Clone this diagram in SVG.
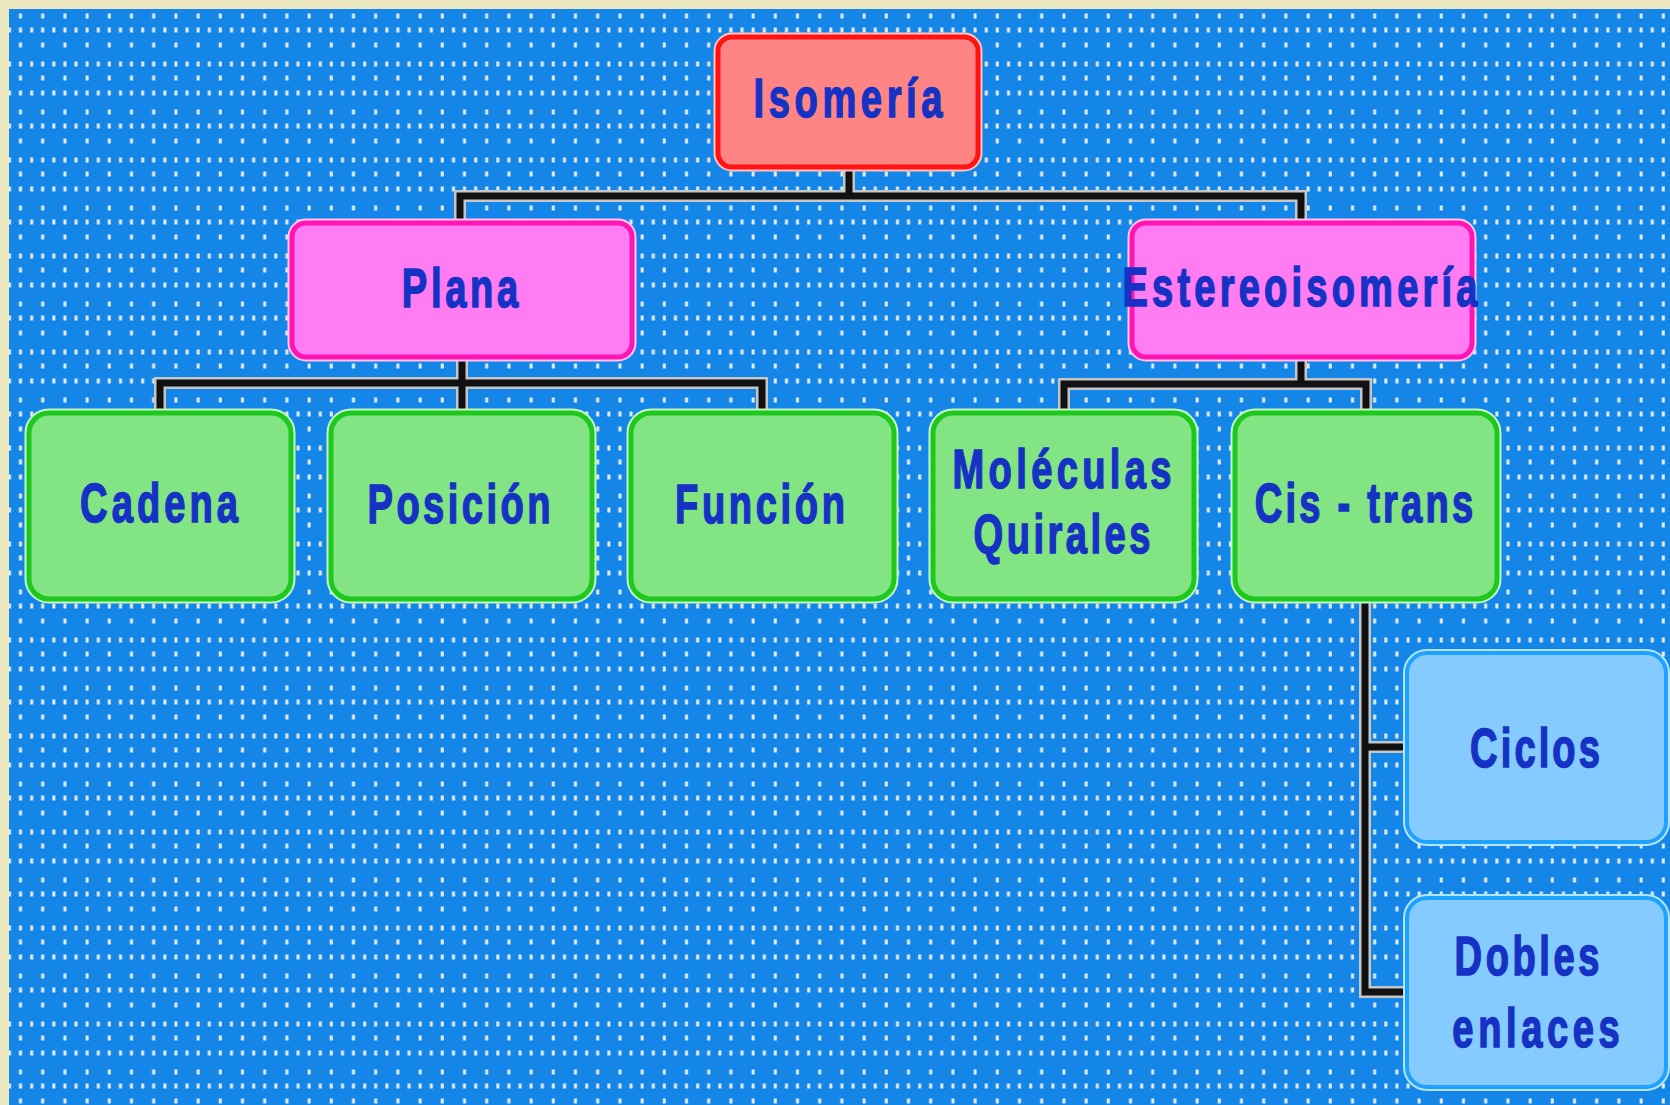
<svg xmlns="http://www.w3.org/2000/svg" width="1670" height="1105" viewBox="0 0 1670 1105">
  <defs>
    <!-- dotted white grid over the blue backdrop -->
    <pattern id="dots" patternUnits="userSpaceOnUse" x="0" y="0" width="22.2" height="96">
      <g fill="#e9ebee">
        <rect x="19" y="13.5" width="3" height="5"/>
        <rect x="8" y="27.5" width="3" height="5"/>
        <rect x="19" y="27.5" width="3" height="5"/>
        <rect x="19" y="42.5" width="3" height="5"/>
        <rect x="8" y="61.5" width="3" height="5"/>
        <rect x="19" y="61.5" width="3" height="5"/>
        <rect x="19" y="75.5" width="3" height="5"/>
        <rect x="8" y="90.5" width="3" height="5"/>
        <rect x="19" y="90.5" width="3" height="5"/>
      </g>
    </pattern>
    <style>
      .wire-halo { fill: none; stroke: #c6c6c6; stroke-width: 12; stroke-linejoin: miter; }
      .wire { fill: none; stroke: #111111; stroke-width: 7; stroke-linejoin: miter; }
      .label { font-family: "Liberation Sans", Arial, sans-serif; font-weight: bold; font-size: 56px; fill: #1632c4; stroke: #1632c4; stroke-width: 1.6; text-anchor: middle; }
      .red .halo { fill: none; stroke: #ffc0c0; stroke-width: 9; }
      .red .box { fill: #ff8585; stroke: #ff1414; stroke-width: 5; }
      .pink .halo { fill: none; stroke: #ffc4f2; stroke-width: 9; }
      .pink .box { fill: #ff7cf2; stroke: #ff14b4; stroke-width: 5; }
      .green .halo { fill: none; stroke: #c4f6c4; stroke-width: 9; }
      .green .box { fill: #82e482; stroke: #1ec81e; stroke-width: 5; }
      .blue .halo { fill: none; stroke: #b4e4ff; stroke-width: 8; }
      .blue .box { fill: #86cbff; stroke: #1ea2ff; stroke-width: 4; }
    </style>
  </defs>

  <!-- frame and backdrop -->
  <rect x="0" y="0" width="1670" height="1105" fill="#ece8c0"/>
  <rect x="9" y="9" width="1661" height="1096" fill="#1486e8"/>
  <rect x="9" y="9" width="1661" height="1096" fill="url(#dots)"/>

  <!-- connectors -->
  <g id="connectors">
    <g class="wire-halo">
      <path d="M849 167 V196"/>
      <path d="M460 223 V196 H1301 V223"/>
      <path d="M462 357 V412"/>
      <path d="M160 412 V383 H762 V412"/>
      <path d="M1301 357 V384"/>
      <path d="M1064 412 V384 H1366 V412"/>
      <path d="M1365 598 V992 H1407"/>
      <path d="M1365 747 H1407"/>
    </g>
    <g class="wire">
      <path d="M849 167 V196"/>
      <path d="M460 223 V196 H1301 V223"/>
      <path d="M462 357 V412"/>
      <path d="M160 412 V383 H762 V412"/>
      <path d="M1301 357 V384"/>
      <path d="M1064 412 V384 H1366 V412"/>
      <path d="M1365 598 V992 H1407"/>
      <path d="M1365 747 H1407"/>
    </g>
  </g>

  <!-- labels use narrow glyphs (scaleX 0.68) with widened spacing;
       textLength values are in the scaled units (target width / 0.68) -->

  <!-- root -->
  <g id="isomeria" class="red">
    <rect class="halo" x="718" y="37" width="260" height="130" rx="14"/>
    <rect class="box" x="718" y="37" width="260" height="130" rx="14"/>
    <text class="label" transform="translate(848 117) scale(0.68 1)" textLength="278" lengthAdjust="spacing">Isomería</text>
  </g>

  <!-- second level -->
  <g id="plana" class="pink">
    <rect class="halo" x="292" y="223" width="340" height="134" rx="14"/>
    <rect class="box" x="292" y="223" width="340" height="134" rx="14"/>
    <text class="label" transform="translate(460 307) scale(0.68 1)" textLength="171" lengthAdjust="spacing">Plana</text>
  </g>
  <g id="estereoisomeria" class="pink">
    <rect class="halo" x="1132" y="223" width="340" height="134" rx="14"/>
    <rect class="box" x="1132" y="223" width="340" height="134" rx="14"/>
    <text class="label" transform="translate(1300 306) scale(0.68 1)" textLength="522" lengthAdjust="spacing">Estereoisomería</text>
  </g>

  <!-- third level -->
  <g id="cadena" class="green">
    <rect class="halo" x="29" y="413" width="262" height="186" rx="20"/>
    <rect class="box" x="29" y="413" width="262" height="186" rx="20"/>
    <text class="label" transform="translate(159 522) scale(0.68 1)" textLength="232" lengthAdjust="spacing">Cadena</text>
  </g>
  <g id="posicion" class="green">
    <rect class="halo" x="331" y="413" width="261" height="186" rx="20"/>
    <rect class="box" x="331" y="413" width="261" height="186" rx="20"/>
    <text class="label" transform="translate(459 523) scale(0.68 1)" textLength="269" lengthAdjust="spacing">Posición</text>
  </g>
  <g id="funcion" class="green">
    <rect class="halo" x="631" y="413" width="263" height="186" rx="20"/>
    <rect class="box" x="631" y="413" width="263" height="186" rx="20"/>
    <text class="label" transform="translate(760 523) scale(0.68 1)" textLength="250" lengthAdjust="spacing">Función</text>
  </g>
  <g id="moleculas-quirales" class="green">
    <rect class="halo" x="933" y="413" width="261" height="186" rx="20"/>
    <rect class="box" x="933" y="413" width="261" height="186" rx="20"/>
    <text class="label" transform="translate(1062 488) scale(0.68 1)" textLength="322" lengthAdjust="spacing">Moléculas</text>
    <text class="label" transform="translate(1062 553) scale(0.68 1)" textLength="260" lengthAdjust="spacing">Quirales</text>
  </g>
  <g id="cis-trans" class="green">
    <rect class="halo" x="1235" y="413" width="262" height="186" rx="20"/>
    <rect class="box" x="1235" y="413" width="262" height="186" rx="20"/>
    <text class="label" transform="translate(1364 522) scale(0.68 1)" textLength="321" lengthAdjust="spacing">Cis - trans</text>
  </g>

  <!-- fourth level -->
  <g id="ciclos" class="blue">
    <rect class="halo" x="1407" y="653" width="259" height="189" rx="20"/>
    <rect class="box" x="1407" y="653" width="259" height="189" rx="20"/>
    <text class="label" transform="translate(1535 767) scale(0.68 1)" textLength="191" lengthAdjust="spacing">Ciclos</text>
  </g>
  <g id="dobles-enlaces" class="blue">
    <rect class="halo" x="1407" y="898" width="259" height="189" rx="20"/>
    <rect class="box" x="1407" y="898" width="259" height="189" rx="20"/>
    <text class="label" transform="translate(1527 975) scale(0.68 1)" textLength="213" lengthAdjust="spacing">Dobles</text>
    <text class="label" transform="translate(1536 1047) scale(0.68 1)" textLength="246" lengthAdjust="spacing">enlaces</text>
  </g>
</svg>
